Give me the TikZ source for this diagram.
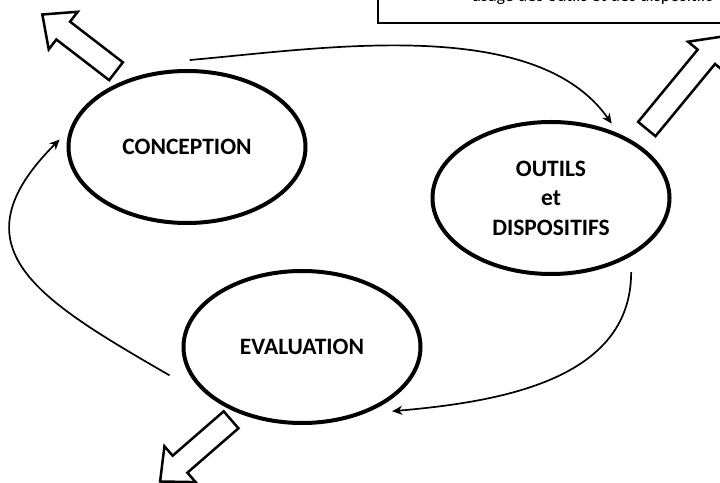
\documentclass[tikz,border=0pt]{standalone}
\usepackage{fontspec}
\setmainfont{Carlito}
\usetikzlibrary{arrows.meta, positioning, shapes.geometric, shapes.arrows}
\tikzstyle{phase} = [draw, ellipse, line width=4pt, minimum width=237pt, minimum height=152pt, align=center, font=\bfseries\fontsize{23.5}{29.5}\selectfont]
\tikzstyle{link} = [-{Stealth[length=10pt, width=9pt, inset=3pt]}, line width=1.7pt]
\tikzstyle{bigarrow} = [draw, single arrow, line width=2.5pt, inner sep=10pt, single arrow head extend=12.5pt, single arrow tip angle=84, anchor=tail]

\begin{document}
\begin{tikzpicture}[x=1pt, y=1pt]
    \useasboundingbox (0,0) rectangle (720,482);

    % Place the phases
    \node [phase] (conc) at (187,335) {CONCEPTION};
    \node [phase] (outils) at (551,284) {OUTILS\\et\\DISPOSITIFS};
    \node [phase] (eval) at (302,135) {EVALUATION};

    % Note box, cut by the page
    \draw [line width=1.3pt] (378,459) rectangle (760,520);
    \node [anchor=base west, font=\fontsize{18}{21}\selectfont] (usage) at (468,480) {usage des outils et des dispositifs};

    % Block arrows
    \node [bigarrow, rotate=142.4, minimum height=93pt] (outC) at (117,410) {};
    \node [bigarrow, rotate=50.5, minimum height=120pt] (outO) at (646,352) {};
    \node [bigarrow, rotate=221, minimum height=94pt] (outE) at (232,63) {};

    % Connect the phases
    \draw [link] ([yshift=9pt]conc.88) to[out=5, in=125, looseness=0.8] ([yshift=7pt]outils.48);
    \draw [link] ([yshift=-16pt]outils.-36) to[out=-90, in=5] ([shift={(10pt,-6pt)}]eval.-36);
    \draw [link] ([shift={(-18pt,-4pt)}]eval.192) to[out=150, in=225, looseness=1.5] ([shift={(-8pt,-3pt)}]conc.175);
\end{tikzpicture}
\end{document}
